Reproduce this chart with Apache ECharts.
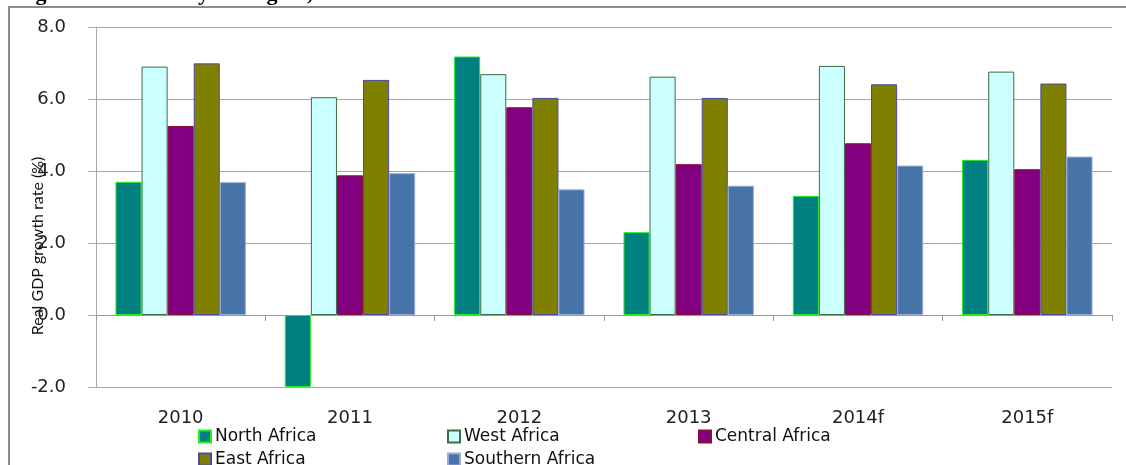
<!DOCTYPE html>
<html>
<head>
<meta charset="utf-8">
<script src="https://cdn.jsdelivr.net/npm/echarts@6/dist/echarts.min.js"></script>
<style>
  html, body { margin: 0; padding: 0; background: #fff; }
  #chart { width: 1126px; height: 465px; }
</style>
</head>
<body>
<div id="chart"></div>
<script>
// data
const years = ['2010', '2011', '2012', '2013', '2014f', '2015f'];
const northAfrica = [3.70, -2.00, 7.18, 2.30, 3.31, 4.31];
const westAfrica = [6.90, 6.05, 6.69, 6.62, 6.92, 6.76];
const centralAfrica = [5.25, 3.88, 5.77, 4.19, 4.77, 4.05];
const eastAfrica = [6.99, 6.53, 6.03, 6.03, 6.41, 6.43];
const southernAfrica = [3.69, 3.94, 3.49, 3.59, 4.15, 4.40];

const chart = echarts.init(document.getElementById('chart'));

function bar(name, data, color, border) {
  return {
    name: name,
    type: 'bar',
    xAxisIndex: 0,
    data: data,
    barGap: '0%',
    barCategoryGap: '23%',
    itemStyle: { color: color, borderColor: border, borderWidth: 1 }
  };
}

// one legend per entry so the columns line up like the original
function legendAt(name, left, top) {
  return {
    data: [name],
    left: left, top: top,
    icon: 'rect', itemWidth: 12, itemHeight: 12, itemGap: 0, padding: 0,
    textStyle: { fontFamily: 'DejaVu Sans', fontSize: 17, color: '#111', padding: [0, 0, 0, -1] }
  };
}

const option = {
  animation: false,
  backgroundColor: '#fff',
  grid: { left: 96, right: 14, top: 27, bottom: 78 },
  legend: [
    legendAt('North Africa', 198, 428),
    legendAt('West Africa', 447, 428),
    legendAt('Central Africa', 698, 428),
    legendAt('East Africa', 198, 451),
    legendAt('Southern Africa', 447, 451)
  ],
  xAxis: [
    {
      type: 'category',
      data: years,
      position: 'bottom',
      axisLine: { show: false, onZero: false },
      axisTick: { show: false },
      axisLabel: { margin: 22, fontFamily: 'DejaVu Sans', fontSize: 18, color: '#222' }
    },
    {
      type: 'category',
      data: years,
      position: 'bottom',
      axisLine: { onZero: true, lineStyle: { color: '#999', width: 1 } },
      axisTick: { show: true, length: 6, lineStyle: { color: '#999' } },
      axisLabel: { show: false }
    }
  ],
  yAxis: {
    type: 'value',
    min: -2, max: 8, interval: 2,
    axisLine: { show: true, lineStyle: { color: '#aaa' } },
    axisTick: { show: true, length: 8, lineStyle: { color: '#aaa' } },
    splitLine: { lineStyle: { color: '#a6a6a6' } },
    axisLabel: {
      margin: 30,
      fontFamily: 'DejaVu Sans', fontSize: 18, color: '#222',
      formatter: v => v.toFixed(1)
    }
  },
  series: [
    bar('North Africa', northAfrica, '#008080', '#22ee22'),
    bar('West Africa', westAfrica, '#ccffff', '#3a6e46'),
    bar('Central Africa', centralAfrica, '#800080', '#8a1030'),
    bar('East Africa', eastAfrica, '#808000', '#4a4aa0'),
    bar('Southern Africa', southernAfrica, '#4674a8', '#9aaad8')
  ],
  graphic: [
    {
      type: 'polyline',
      shape: { points: [[9, 465], [9, 7], [1126, 7]] },
      style: { stroke: '#8c8c8c', lineWidth: 2, fill: null }
    },
    {
      type: 'text',
      left: 16, top: -17,
      style: {
        text: 'Figure 1: Growth by subregion, 2010-2015',
        font: 'bold 22px "Liberation Serif"', fill: '#000'
      }
    },
    {
      type: 'text',
      x: 38, y: 246, rotation: Math.PI / 2,
      style: {
        text: 'Real GDP growth rate (%)',
        font: '16px Lato', fill: '#111',
        align: 'center', verticalAlign: 'middle'
      }
    }
  ]
};

chart.setOption(option);
</script>
</body>
</html>
